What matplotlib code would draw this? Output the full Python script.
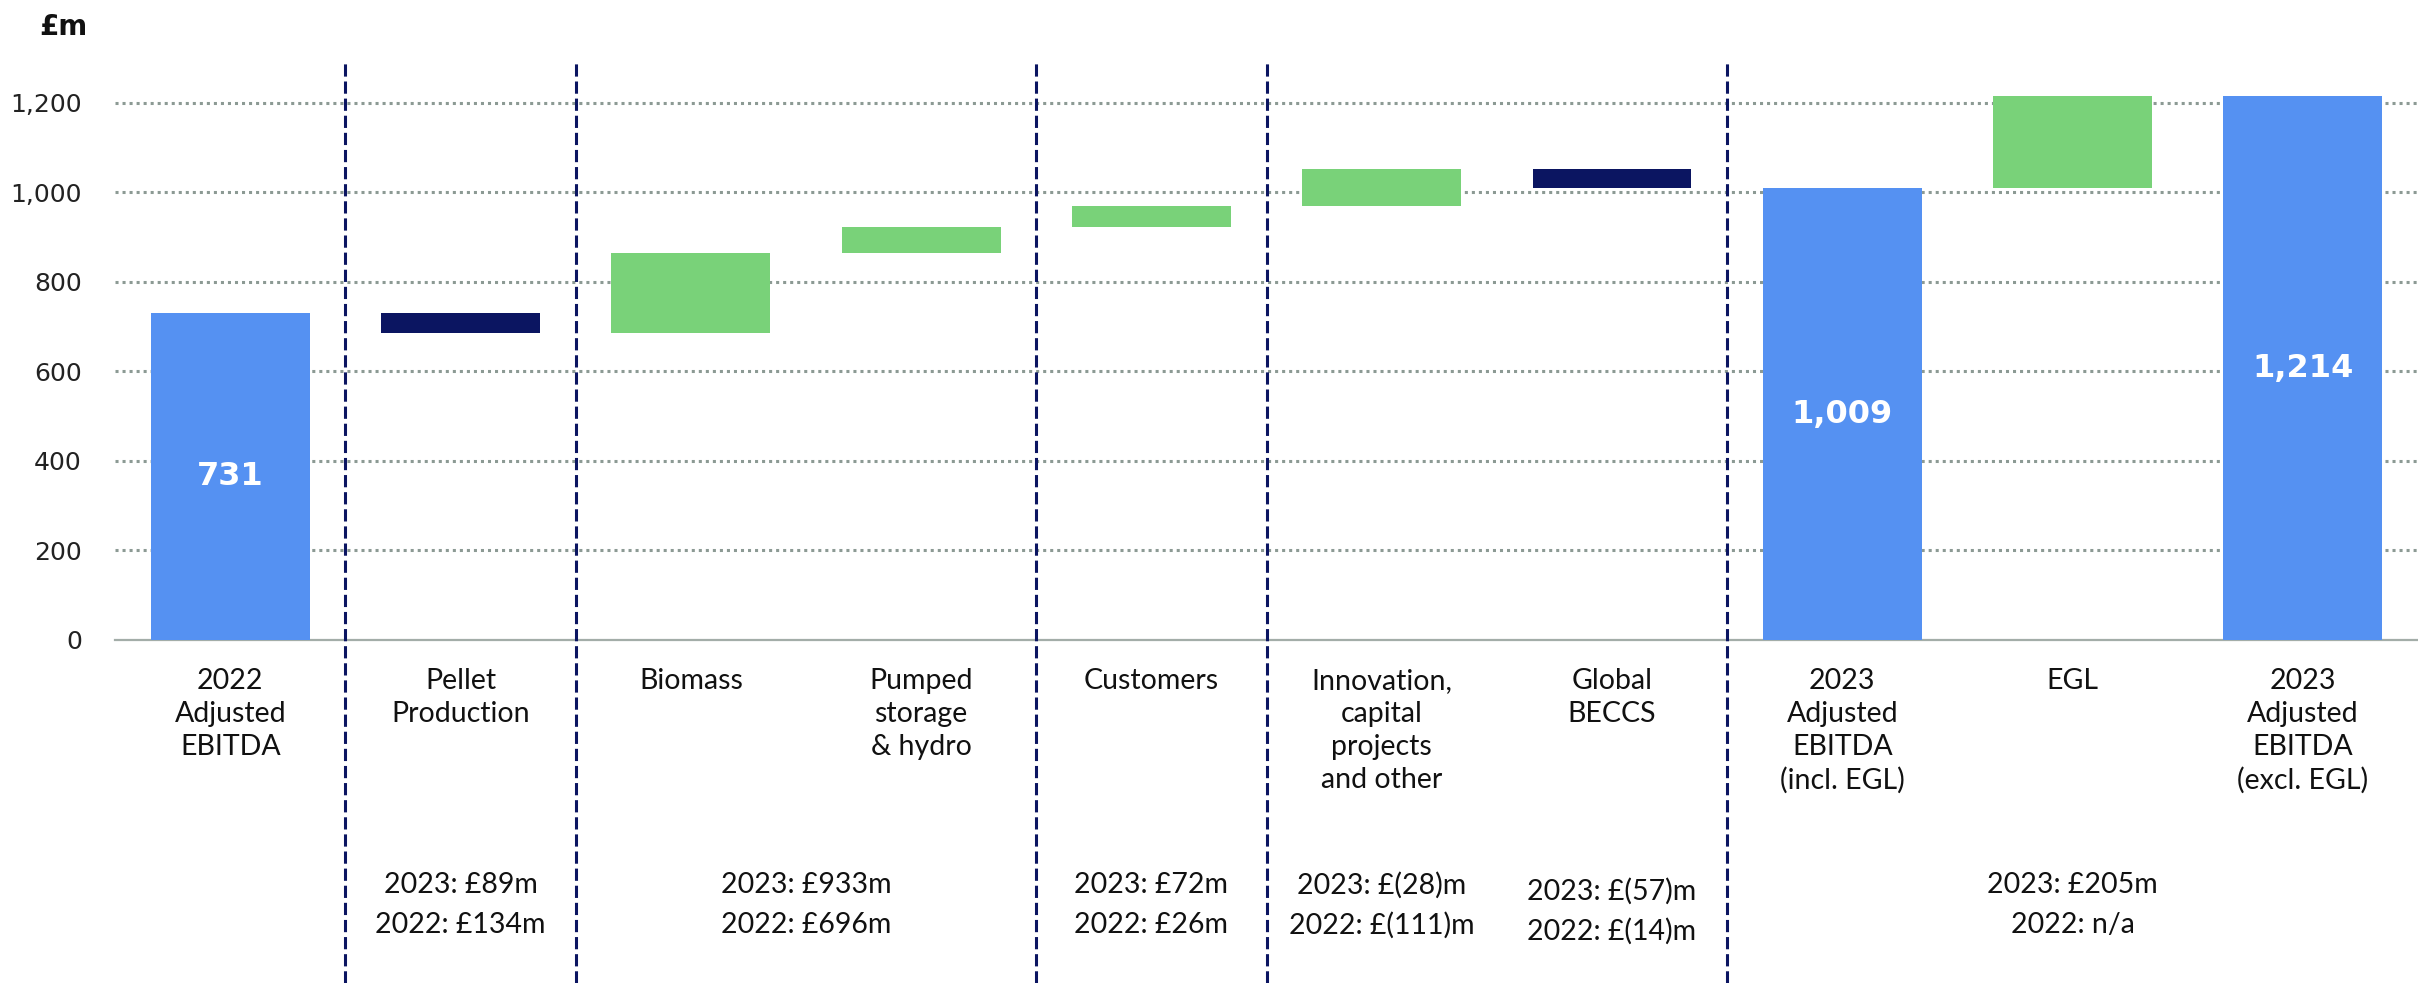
import numpy as np
import matplotlib.pyplot as plt
from matplotlib.transforms import blended_transform_factory

# data
categories = ["2022\nAdjusted\nEBITDA", "Pellet\nProduction", "Biomass",
              "Pumped\nstorage\n& hydro", "Customers",
              "Innovation,\ncapital\nprojects\nand other", "Global\nBECCS",
              "2023\nAdjusted\nEBITDA\n(incl. EGL)", "EGL",
              "2023\nAdjusted\nEBITDA\n(excl. EGL)"]
start_value = 731
step_changes = [-45, 178, 59, 46, 83, -43]
subtotal_value = 1009
egl_change = 205
total_value = 1214

separators = [0.5, 1.5, 3.5, 4.5, 6.5]
note_x = [1, 2.5, 4, 5, 6, 8]
notes_2023 = ["2023: £89m", "2023: £933m", "2023: £72m", "2023: £(28)m", "2023: £(57)m", "2023: £205m"]
notes_2022 = ["2022: £134m", "2022: £696m", "2022: £26m", "2022: £(111)m", "2022: £(14)m", "2022: n/a"]
yticks = [0, 200, 400, 600, 800, 1000, 1200]

BLUE = '#5591f2'
GREEN = '#79d279'
NAVY = '#0b1561'
GRID = '#8c9a94'
TEXT_FONT = ['Lato', 'DejaVu Sans']

fig = plt.figure(figsize=(24.18, 9.83), dpi=100)
ax = fig.add_axes([0.0476, 0.349, 0.9524, 0.592])

# waterfall geometry
x = np.arange(len(categories))
bottoms, heights, colors = [0], [start_value], [BLUE]
level = start_value
for ch in step_changes:
    bottoms.append(min(level, level + ch))
    heights.append(abs(ch))
    colors.append(GREEN if ch > 0 else NAVY)
    level += ch
bottoms.append(0); heights.append(subtotal_value); colors.append(BLUE)
bottoms.append(subtotal_value); heights.append(egl_change); colors.append(GREEN)
bottoms.append(0); heights.append(total_value); colors.append(BLUE)

ax.bar(x, heights, bottom=bottoms, width=0.69, color=colors, zorder=3)

# totals inside the blue bars
for i, val in [(0, start_value), (7, subtotal_value), (9, total_value)]:
    ax.text(i, val / 2, f'{val:,}', ha='center', va='center', color='white',
            fontsize=23, fontweight='bold', zorder=4)

ax.set_xlim(-0.5, len(categories) - 0.5)
ax.set_ylim(0, 1300)
ax.set_yticks(yticks)
ax.set_yticklabels([f'{v:,}' for v in yticks], fontsize=18, color='#222222')
ax.set_xticks(x)
ax.set_xticklabels(categories, fontsize=20.5, family=TEXT_FONT, linespacing=1.33,
                   color='#111111')
ax.tick_params(axis='both', length=0)
ax.tick_params(axis='y', pad=24)
ax.tick_params(axis='x', pad=20)

for v in yticks[1:]:
    ax.axhline(v, color=GRID, lw=2.2, linestyle=(0, (1, 1.3)), zorder=1)
for s in ['top', 'right', 'left']:
    ax.spines[s].set_visible(False)
ax.spines['bottom'].set_color('#a3ada8')
ax.spines['bottom'].set_linewidth(1.6)

# dashed separators running to the bottom of the figure
trans = blended_transform_factory(ax.transData, fig.transFigure)
for s in separators:
    ax.plot([s, s], [0, 0.94], transform=trans, color=NAVY, lw=2.2,
            linestyle=(0, (4, 1.6)), clip_on=False, zorder=5)

# 2023 / 2022 notes
for i, (xn, a, b) in enumerate(zip(note_x, notes_2023, notes_2022)):
    dy = -0.006 if i == 4 else 0
    ax.text(xn, 0.0997 + dy, a, transform=trans, ha='center', va='center',
            fontsize=20.5, family=TEXT_FONT, color='#111111')
    ax.text(xn, 0.059 + dy, b, transform=trans, ha='center', va='center',
            fontsize=20.5, family=TEXT_FONT, color='#111111')

fig.text(0.0262, 0.9725, '£m', ha='center', va='center', fontsize=20,
         fontweight='bold', color='#111111')

fig.savefig('out.png', dpi=100)
